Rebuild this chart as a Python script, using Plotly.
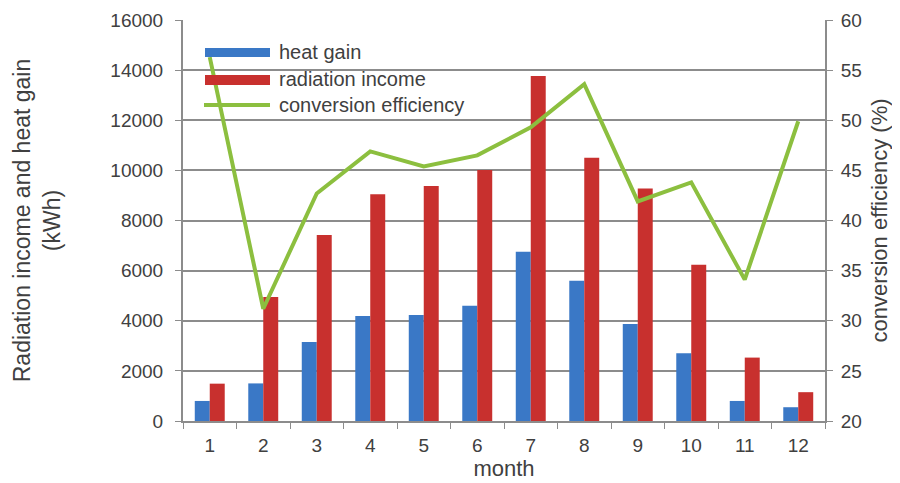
import plotly.graph_objects as go

months = ["1", "2", "3", "4", "5", "6", "7", "8", "9", "10", "11", "12"]
heat_gain = [800, 1500, 3150, 4190, 4230, 4600, 6750, 5600, 3870, 2700, 800, 550]
radiation_income = [1490, 4950, 7420, 9050, 9380, 10010, 13770, 10500, 9280, 6230, 2530, 1150]
efficiency = [56.3, 31.2, 42.7, 46.9, 45.4, 46.5, 49.3, 53.6, 41.9, 43.8, 34.1, 49.9]

BLUE = "#3a78c6"
RED = "#c8302e"
GREEN = "#8cbf3f"
GRID = "#8c8c8c"
TXT = "#404040"
FONT = "Liberation Sans, Arial, sans-serif"

fig = go.Figure()
fig.add_trace(go.Bar(x=months, y=heat_gain, name="heat gain", marker=dict(color=BLUE, line=dict(width=0))))
fig.add_trace(go.Bar(x=months, y=radiation_income, name="radiation income", marker=dict(color=RED, line=dict(width=0))))
fig.add_trace(go.Scatter(x=months, y=efficiency, name="conversion efficiency", mode="lines",
                         line=dict(color=GREEN, width=4), yaxis="y2"))

# page is offset by the 8px body margin; plot area spans page x 183..825, y 20..421
def px_x(v):
    return (v - 183) / (825 - 183)

def px_y(v):
    return (421 - v) / (421 - 20)

shapes = [
    dict(type="rect", xref="paper", yref="paper", x0=px_x(205), x1=px_x(270), y0=px_y(57), y1=px_y(48),
         fillcolor=BLUE, line=dict(width=0)),
    dict(type="rect", xref="paper", yref="paper", x0=px_x(205), x1=px_x(270), y0=px_y(85), y1=px_y(75),
         fillcolor=RED, line=dict(width=0)),
    dict(type="line", xref="paper", yref="paper", x0=px_x(204), x1=px_x(270), y0=px_y(105), y1=px_y(105),
         line=dict(color=GREEN, width=4)),
]
legend_items = [("heat gain", 52), ("radiation income", 79), ("conversion efficiency", 105)]
annotations = [
    dict(text=t, xref="paper", yref="paper", x=px_x(277), y=px_y(yy), xanchor="left", yanchor="middle",
         showarrow=False, font=dict(size=20, color=TXT, family=FONT))
    for t, yy in legend_items
]

fig.update_layout(
    width=892, height=475,
    margin=dict(l=175, r=75, t=12, b=62, autoexpand=False),
    paper_bgcolor="white", plot_bgcolor="white",
    barmode="group", bargap=0.44, bargroupgap=0,
    showlegend=False,
    shapes=shapes, annotations=annotations,
    font=dict(family=FONT, color=TXT, size=19),
    xaxis=dict(type="category", tickson="boundaries", ticks="outside", ticklen=6, tickcolor=GRID,
               showline=True, linecolor=GRID, linewidth=2, showgrid=False, range=[-0.5, 11.5],
               tickfont=dict(size=19, color=TXT), ticklabelstandoff=6, automargin=False,
               title=dict(text="month", font=dict(size=22, color=TXT), standoff=4)),
    yaxis=dict(range=[0, 16000], dtick=2000, tickformat="d", showgrid=True, gridcolor=GRID, gridwidth=1.5,
               showline=True, linecolor=GRID, linewidth=2, ticks="outside", ticklen=6, tickcolor=GRID,
               zeroline=False, tickfont=dict(size=19, color=TXT), ticklabelstandoff=8, automargin=False,
               title=dict(text="Radiation income and heat gain<br>(kWh)", font=dict(size=23, color=TXT), standoff=43)),
    yaxis2=dict(range=[20, 60], dtick=5, overlaying="y", side="right", showgrid=False,
                showline=True, linecolor=GRID, linewidth=2, ticks="outside", ticklen=6, tickcolor=GRID,
                zeroline=False, tickfont=dict(size=19, color=TXT), ticklabelstandoff=4, automargin=False,
                title=dict(text="conversion efficiency (%)", font=dict(size=22, color=TXT), standoff=11)),
)

fig.write_html("out.html")
